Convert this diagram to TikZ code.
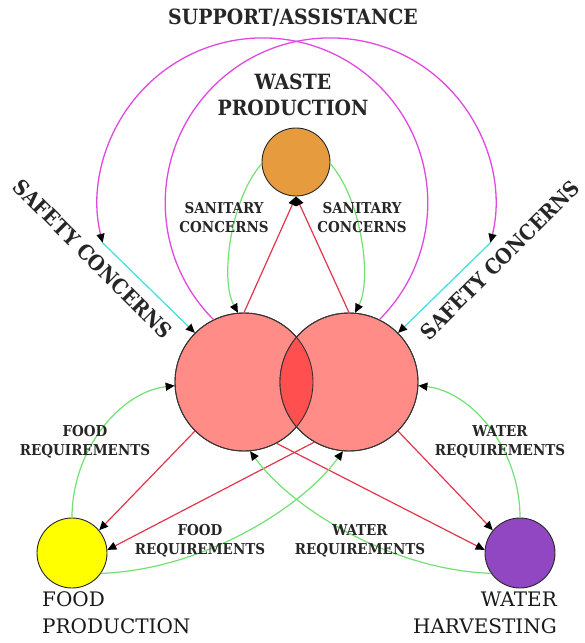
\documentclass[tikz,border=0pt]{standalone}
\usepackage{fontspec}
\setmainfont{DejaVu Serif}
\newfontfamily\condserif{DejaVu Serif Condensed}
\usetikzlibrary{arrows.meta}
\definecolor{bigpink}{HTML}{FF8C86}
\definecolor{lensred}{HTML}{FF4F4F}
\definecolor{wasteorange}{HTML}{E69C3E}
\definecolor{foodyellow}{HTML}{FFFF00}
\definecolor{waterpurple}{HTML}{9146C2}
\definecolor{redline}{HTML}{E3344C}
\definecolor{greenline}{HTML}{72E072}
\definecolor{magline}{HTML}{E048E0}
\definecolor{cyanline}{HTML}{48E0E0}
\begin{document}
\begin{tikzpicture}[x=1pt,y=1pt,
  tip/.style={-{Triangle[length=9pt,width=8pt,color=black]}},
  hub/.style={circle,draw=black!80,line width=0.9pt,fill=bigpink,minimum size=138pt,inner sep=0pt},
  src/.style={circle,draw=black!85,line width=0.9pt,minimum size=70pt,inner sep=0pt},
  redc/.style={draw=redline,line width=1.2pt,tip},
  greenc/.style={draw=greenline,line width=1.2pt,tip},
  magc/.style={draw=magline,line width=1.3pt,tip},
  cyanc/.style={draw=cyanline,line width=1.3pt,tip},
  small/.style={font=\condserif\bfseries\fontsize{15}{19}\selectfont,align=center,inner sep=0pt,text=black!85},
  big/.style={font=\condserif\bfseries\fontsize{21}{26}\selectfont,align=center,inner sep=0pt,text=black!85},
  bottom/.style={font=\fontsize{20}{27}\selectfont,inner sep=0pt,text=black!90}
]
\useasboundingbox (0,0) rectangle (585,-643);
% circles
\node[hub] (lc) at (244,-382) {};
\node[hub] (rc) at (349,-382) {};
\begin{scope}
  \clip (244,-382) circle [radius=69pt];
  \fill[lensred] (349,-382) circle [radius=69pt];
\end{scope}
\draw[black!80,line width=0.9pt] (244,-382) circle [radius=69pt];
\draw[black!80,line width=0.9pt] (349,-382) circle [radius=69pt];
\node[src,fill=wasteorange,minimum size=68pt] (waste) at (296,-162) {};
\node[src,fill=foodyellow] (food) at (72,-553) {};
\node[src,fill=waterpurple] (water) at (520,-553) {};
% red connectors
\draw[redc] (lc.90) -- (waste.-90);
\draw[redc] (rc.90) -- (waste.-90);
\draw[redc] (lc.225) -- (food.40);
\draw[redc] (rc.240) -- (food.5);
\draw[redc] (lc.-62) -- (water.175);
\draw[redc] (rc.-45) -- (water.140);
% green connectors
\draw[greenc] (food.90) .. controls (72,-450) and (120,-392) .. (lc.183);
\draw[greenc] (water.90) .. controls (520,-450) and (473,-392) .. (rc.-3);
\draw[greenc] (food.-35) .. controls (200,-570) and (300,-510) .. (rc.265);
\draw[greenc] (water.215) .. controls (393,-570) and (293,-510) .. (lc.275);
\draw[greenc] (waste.183) .. controls (230,-200) and (220,-280) .. (lc.95);
\draw[greenc] (waste.-3) .. controls (362,-200) and (372,-280) .. (rc.85);
% magenta arcs and cyan links
\draw[magc] (rc.64) arc[start angle=-45,end angle=194,radius=165pt] coordinate (sl);
\draw[magc] (lc.116) arc[start angle=225,end angle=-14,radius=165pt] coordinate (sr);
\draw[cyanc] (sl) -- (lc.135);
\draw[cyanc] (sr) -- (rc.45);
% labels
\node[big] (supp) at (293,-18) {SUPPORT/ASSISTANCE};
\node[big] (wastelbl) at (293,-95) {WASTE\\PRODUCTION};
\node[big,rotate=-45] (safl) at (93,-259) {SAFETY CONCERNS};
\node[big,rotate=45] (safr) at (500,-260) {SAFETY CONCERNS};
\node[small] (sanl) at (224,-218) {SANITARY\\CONCERNS};
\node[small] (sanr) at (362,-218) {SANITARY\\CONCERNS};
\node[small] (frl) at (85,-442) {FOOD\\REQUIREMENTS};
\node[small] (frb) at (200,-541) {FOOD\\REQUIREMENTS};
\node[small] (wrb) at (360,-541) {WATER\\REQUIREMENTS};
\node[small] (wrr) at (500,-442) {WATER\\REQUIREMENTS};
\node[bottom,align=left,anchor=west] (foodlbl) at (42,-613) {FOOD\\PRODUCTION};
\node[bottom,align=right,anchor=east] (waterlbl) at (557,-613) {WATER\\HARVESTING};
\end{tikzpicture}
\end{document}
